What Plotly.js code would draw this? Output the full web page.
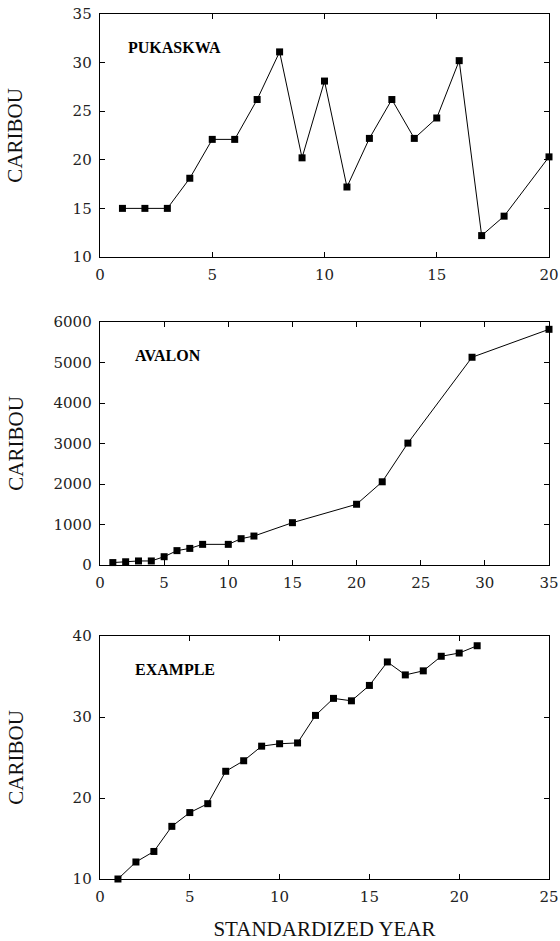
<!DOCTYPE html>
<html>
<head>
<meta charset="utf-8">
<script src="https://cdn.plot.ly/plotly-3.0.1.min.js"></script>
<style>html,body{margin:0;padding:0;background:#fff;}#chart{width:560px;height:941px;}</style>
</head>
<body>
<div id="chart"></div>
<script>
// Panel 1: Pukaskwa
const pukYears = [1,2,3,4,5,6,7,8,9,10,11,12,13,14,15,16,17,18,20];
const pukCaribou = [15,15,15,18.1,22.1,22.1,26.2,31.1,20.2,28.1,17.2,22.2,26.2,22.2,24.3,30.2,12.2,14.2,20.3];

// Panel 2: Avalon
const avYears = [1,2,3,4,5,6,7,8,10,11,12,15,20,22,24,29,35];
const avCaribou = [60,80,100,100,205,355,410,510,510,650,715,1045,1500,2055,3010,5130,5820];

// Panel 3: Example
const exYears = [1,2,3,4,5,6,7,8,9,10,11,12,13,14,15,16,17,18,19,20,21];
const exCaribou = [10,12.1,13.4,16.5,18.2,19.3,23.3,24.6,26.4,26.7,26.8,30.2,32.3,32.0,33.9,36.8,35.2,35.7,37.5,37.9,38.8];

const panelLabels = ["PUKASKWA","AVALON","EXAMPLE"];
const yTitle = "CARIBOU";
const xTitle = "STANDARDIZED YEAR";

const serif = "'Liberation Serif', 'Times New Roman', serif";
const tickSerif = "'DejaVu Serif', serif";
const lineStyle = {color:'#000', width:1};
const markerStyle = {symbol:'square', size:7, color:'#000'};

function tr(x, y, xa, ya){
  return {x:x, y:y, xaxis:xa, yaxis:ya, mode:'lines+markers', line:lineStyle, marker:markerStyle, showlegend:false, hoverinfo:'x+y', cliponaxis:false};
}

const data = [
  tr(pukYears, pukCaribou, 'x', 'y'),
  tr(avYears, avCaribou, 'x2', 'y2'),
  tr(exYears, exCaribou, 'x3', 'y3')
];

function ax(range, dtick, domain, anchor){
  return {
    range: range, dtick: dtick, tick0: 0, domain: domain, anchor: anchor,
    showline: true, linecolor: '#000', linewidth: 1.3, mirror: 'ticks',
    ticks: 'inside', ticklen: 5, tickcolor: '#000', tickwidth: 1,
    showgrid: false, zeroline: false,
    tickfont: {family: tickSerif, size: 15, color: '#222'},
    ticklabelstandoff: 4, fixedrange: true
  };
}

const d1 = [0.7191, 1.0], d2 = [0.3630, 0.6439], d3 = [0.0, 0.2809];

const labelFont = {family: serif, size: 16, color: '#000'};
const titleFont = {family: serif, size: 21, color: '#111'};

const layout = {
  width: 560, height: 941,
  margin: {l: 100, r: 11, t: 14, b: 62},
  paper_bgcolor: '#fff', plot_bgcolor: '#fff',
  xaxis: ax([0,20], 5, [0,1], 'y'),
  yaxis: ax([10,35], 5, d1, 'x'),
  xaxis2: ax([0,35], 5, [0,1], 'y2'),
  yaxis2: ax([0,6000], 1000, d2, 'x2'),
  xaxis3: Object.assign(ax([0,25], 5, [0,1], 'y3'), {
    title: {text: xTitle, font: titleFont, standoff: 20}
  }),
  yaxis3: ax([10,40], 10, d3, 'x3'),
  annotations: [
    {text: '<b>' + panelLabels[0] + '</b>', xref: 'x', yref: 'y', x: 1.15, y: 31.6, xanchor: 'left', yanchor: 'middle', showarrow: false, font: labelFont},
    {text: '<b>' + panelLabels[1] + '</b>', xref: 'x2', yref: 'y2', x: 2.6, y: 5180, xanchor: 'left', yanchor: 'middle', showarrow: false, font: labelFont},
    {text: '<b>' + panelLabels[2] + '</b>', xref: 'x3', yref: 'y3', x: 1.85, y: 35.9, xanchor: 'left', yanchor: 'middle', showarrow: false, font: labelFont},
    {text: yTitle, xref: 'paper', yref: 'paper', x: -0.189, y: (d1[0]+d1[1])/2, xanchor: 'center', yanchor: 'middle', textangle: -90, showarrow: false, font: titleFont},
    {text: yTitle, xref: 'paper', yref: 'paper', x: -0.189, y: (d2[0]+d2[1])/2, xanchor: 'center', yanchor: 'middle', textangle: -90, showarrow: false, font: titleFont},
    {text: yTitle, xref: 'paper', yref: 'paper', x: -0.189, y: (d3[0]+d3[1])/2, xanchor: 'center', yanchor: 'middle', textangle: -90, showarrow: false, font: titleFont}
  ]
};

Plotly.newPlot('chart', data, layout, {staticPlot: true, displayModeBar: false});
</script>
</body>
</html>
